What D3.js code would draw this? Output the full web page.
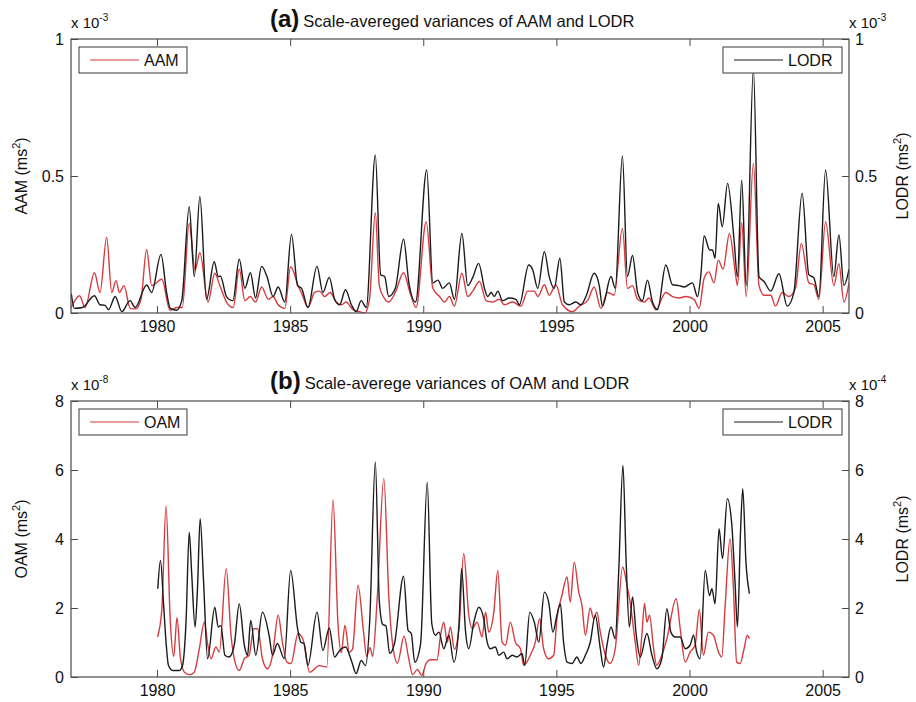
<!DOCTYPE html>
<html>
<head>
<meta charset="utf-8">
<script src="https://cdn.jsdelivr.net/npm/d3@7"></script>
<style>
  body { margin: 0; background: #fff; }
  text { font-family: "Liberation Sans", Arial, sans-serif; fill: #111; }
</style>
</head>
<body>
<svg id="chart" width="916" height="702"></svg>
<script>
// ---- data -------------------------------------------------------------
const yearTicks = [1980, 1985, 1990, 1995, 2000, 2005];
const topTicks = [0, 0.5, 1];          // both axes of panel (a), x 10^-3
const bottomTicks = [0, 2, 4, 6, 8];   // OAM x 10^-8, LODR x 10^-4

// Panel (a): AAM scale-averaged variance, x 10^-3 ms^2  [year, value]
const aamSeries = [
  [1976.78,0.02],[1977.09,0.063],[1977.3,0.02],[1977.65,0.147],[1977.86,0.075],
  [1978.11,0.276],[1978.3,0.075],[1978.46,0.118],[1978.59,0.075],[1978.76,0.10],
  [1978.99,0.017],[1979.2,0.015],[1979.4,0.05],[1979.61,0.232],[1979.8,0.10],
  [1980.18,0.123],[1980.49,0.01],[1980.75,0.02],[1980.95,0.02],[1981.21,0.327],
  [1981.43,0.157],[1981.61,0.22],[1981.92,0.04],[1982.17,0.145],[1982.36,0.10],
  [1982.61,0.04],[1982.86,0.02],[1983.09,0.16],[1983.3,0.045],[1983.5,0.06],
  [1983.7,0.04],[1983.93,0.095],[1984.18,0.05],[1984.36,0.06],[1984.55,0.03],
  [1984.8,0.017],[1985.02,0.169],[1985.3,0.10],[1985.48,0.06],[1985.67,0.02],
  [1985.92,0.075],[1986.1,0.08],[1986.3,0.06],[1986.5,0.075],[1986.73,0.04],
  [1986.92,0.03],[1987.1,0.04],[1987.36,0.012],[1987.6,0.005],[1987.8,0.0],
  [1987.98,0.05],[1988.2,0.366],[1988.35,0.10],[1988.5,0.06],[1988.7,0.04],
  [1988.95,0.075],[1989.26,0.147],[1989.5,0.075],[1989.73,0.02],[1990.11,0.333],
  [1990.36,0.09],[1990.61,0.06],[1990.8,0.04],[1990.98,0.06],[1991.17,0.025],
  [1991.45,0.145],[1991.67,0.06],[1991.86,0.08],[1992.11,0.115],[1992.36,0.045],
  [1992.61,0.04],[1992.86,0.05],[1993.05,0.03],[1993.36,0.04],[1993.67,0.025],
  [1993.92,0.08],[1994.17,0.08],[1994.3,0.06],[1994.55,0.103],[1994.73,0.065],
  [1994.98,0.103],[1995.23,0.03],[1995.61,0.005],[1995.86,0.025],[1996.17,0.045],
  [1996.42,0.095],[1996.67,0.017],[1996.92,0.075],[1997.17,0.065],[1997.48,0.309],
  [1997.67,0.09],[1997.86,0.10],[1998.05,0.05],[1998.3,0.04],[1998.48,0.055],
  [1998.73,0.012],[1999.11,0.075],[1999.36,0.06],[1999.61,0.055],[1999.86,0.06],
  [2000.17,0.05],[2000.36,0.017],[2000.55,0.128],[2000.73,0.15],[2000.92,0.11],
  [2001.08,0.193],[2001.26,0.16],[2001.5,0.29],[2001.73,0.14],[2001.8,0.10],
  [2001.96,0.33],[2002.13,0.06],[2002.4,0.546],[2002.61,0.10],[2002.8,0.065],
  [2003.05,0.065],[2003.23,0.025],[2003.48,0.075],[2003.73,0.06],[2003.98,0.09],
  [2004.2,0.254],[2004.48,0.11],[2004.67,0.103],[2004.86,0.05],[2005.11,0.333],
  [2005.42,0.10],[2005.61,0.18],[2005.8,0.04],[2005.99,0.11]
];

// Panel (a): LODR scale-averaged variance, x 10^-3 ms^2
const lodrTopSeries = [
  [1976.78,0.07],[1976.9,0.017],[1977.2,0.02],[1977.65,0.063],[1977.86,0.03],
  [1978.05,0.028],[1978.18,0.012],[1978.43,0.06],[1978.68,0.005],[1978.99,0.045],
  [1979.18,0.02],[1979.61,0.102],[1979.8,0.075],[1980.15,0.214],[1980.36,0.075],
  [1980.5,0.017],[1980.74,0.01],[1980.93,0.045],[1981.21,0.388],[1981.4,0.133],
  [1981.61,0.425],[1981.86,0.05],[1982.15,0.187],[1982.3,0.133],[1982.38,0.135],
  [1982.61,0.06],[1982.85,0.045],[1983.09,0.196],[1983.3,0.09],[1983.51,0.147],
  [1983.7,0.055],[1983.93,0.17],[1984.13,0.133],[1984.36,0.06],[1984.55,0.095],
  [1984.8,0.04],[1985.05,0.287],[1985.28,0.10],[1985.43,0.09],[1985.67,0.02],
  [1986.01,0.17],[1986.23,0.075],[1986.47,0.13],[1986.67,0.05],[1986.86,0.03],
  [1987.08,0.085],[1987.3,0.03],[1987.48,0.005],[1987.67,0.045],[1987.86,0.02],
  [1988.2,0.577],[1988.4,0.14],[1988.55,0.133],[1988.7,0.06],[1988.95,0.09],
  [1989.26,0.269],[1989.46,0.11],[1989.71,0.04],[1990.13,0.522],[1990.36,0.11],
  [1990.55,0.12],[1990.73,0.09],[1990.98,0.11],[1991.17,0.05],[1991.45,0.29],
  [1991.67,0.10],[1991.86,0.13],[1992.08,0.181],[1992.3,0.09],[1992.42,0.06],
  [1992.55,0.075],[1992.67,0.06],[1992.8,0.08],[1992.98,0.045],[1993.23,0.055],
  [1993.48,0.05],[1993.61,0.03],[1993.96,0.175],[1994.11,0.158],[1994.3,0.09],
  [1994.55,0.224],[1994.73,0.133],[1994.92,0.09],[1995.13,0.20],[1995.3,0.04],
  [1995.48,0.03],[1995.73,0.04],[1995.92,0.03],[1996.11,0.06],[1996.42,0.145],
  [1996.61,0.10],[1996.73,0.025],[1997.05,0.133],[1997.21,0.09],[1997.48,0.573],
  [1997.67,0.133],[1997.86,0.21],[1998.05,0.075],[1998.23,0.045],[1998.42,0.12],
  [1998.61,0.04],[1998.8,0.012],[1999.11,0.175],[1999.36,0.103],[1999.61,0.10],
  [1999.8,0.095],[2000.11,0.11],[2000.3,0.06],[2000.42,0.133],[2000.55,0.281],
  [2000.76,0.23],[2000.86,0.23],[2000.96,0.20],[2001.08,0.40],[2001.23,0.315],
  [2001.43,0.473],[2001.67,0.27],[2001.8,0.133],[2001.96,0.485],[2002.13,0.10],
  [2002.4,0.89],[2002.61,0.133],[2002.8,0.115],[2003.05,0.08],[2003.36,0.143],
  [2003.67,0.025],[2003.92,0.075],[2004.23,0.437],[2004.48,0.14],[2004.67,0.128],
  [2004.86,0.06],[2005.11,0.522],[2005.42,0.133],[2005.61,0.285],[2005.8,0.10],
  [2005.99,0.16]
];

// Panel (b): OAM scale-averaged variance, x 10^-8 ms^2
const oamSeries = [
  [1980.02,1.16],[1980.18,1.95],[1980.34,4.95],[1980.5,1.59],[1980.63,0.6],
  [1980.75,1.72],[1980.88,0.55],[1981.03,0.14],[1981.23,0.07],[1981.4,0.14],
  [1981.59,0.82],[1981.78,1.59],[1981.9,0.97],[1982.03,0.53],[1982.21,0.87],
  [1982.34,0.72],[1982.6,3.14],[1982.78,1.21],[1982.93,0.43],[1983.09,0.19],
  [1983.28,0.53],[1983.46,0.63],[1983.63,1.4],[1983.78,1.4],[1983.96,0.53],
  [1984.15,0.24],[1984.34,0.63],[1984.55,1.79],[1984.71,1.01],[1984.88,0.43],
  [1985.03,0.39],[1985.3,1.26],[1985.49,1.07],[1985.73,0.14],[1986.1,0.33],
  [1986.38,0.29],[1986.61,5.14],[1986.8,1.5],[1986.92,0.7],[1987.06,1.5],
  [1987.22,0.72],[1987.34,0.8],[1987.55,2.66],[1987.76,1.28],[1987.87,0.6],
  [1988.0,0.85],[1988.1,0.6],[1988.27,2.27],[1988.52,5.75],[1988.71,2.27],
  [1988.84,1.01],[1989.03,0.4],[1989.28,1.18],[1989.45,0.55],[1989.6,0.07],
  [1989.78,0.22],[1989.94,0.05],[1990.1,0.38],[1990.27,0.5],[1990.52,0.5],
  [1990.65,1.21],[1990.77,1.59],[1990.9,1.01],[1991.02,1.45],[1991.17,0.8],
  [1991.34,1.4],[1991.52,3.58],[1991.71,1.79],[1991.84,1.4],[1992.02,1.59],
  [1992.21,1.16],[1992.34,1.88],[1992.46,1.3],[1992.65,1.88],[1992.8,3.09],
  [1992.96,1.01],[1993.09,0.92],[1993.27,1.59],[1993.46,1.01],[1993.65,0.82],
  [1993.77,0.34],[1994.02,0.63],[1994.21,1.01],[1994.37,1.69],[1994.52,0.82],
  [1994.71,0.53],[1994.9,0.63],[1995.02,1.69],[1995.21,2.37],[1995.4,2.9],
  [1995.52,2.17],[1995.67,3.33],[1995.84,2.46],[1995.96,2.08],[1996.09,1.21],
  [1996.27,2.0],[1996.4,1.69],[1996.52,1.88],[1996.65,1.3],[1996.84,0.63],
  [1997.02,0.39],[1997.21,0.82],[1997.49,3.19],[1997.65,2.66],[1997.77,2.17],
  [1997.96,1.01],[1998.09,0.34],[1998.21,1.21],[1998.31,2.13],[1998.4,1.59],
  [1998.5,1.79],[1998.65,0.82],[1998.77,0.34],[1998.96,0.63],[1999.15,1.11],
  [1999.5,2.27],[1999.65,1.4],[1999.84,0.43],[2000.02,0.72],[2000.21,0.92],
  [2000.37,1.96],[2000.52,0.63],[2000.71,1.3],[2000.9,1.21],[2001.09,0.72],
  [2001.21,0.58],[2001.34,2.08],[2001.52,4.01],[2001.65,2.56],[2001.77,0.43],
  [2001.9,0.39],[2002.05,0.82],[2002.17,1.21],[2002.25,1.11]
];

// Panel (b): LODR scale-averaged variance, x 10^-4 ms^2
const lodrBottomSeries = [
  [1980.03,2.56],[1980.13,3.38],[1980.25,2.07],[1980.34,1.01],[1980.43,0.34],
  [1980.59,0.19],[1980.84,0.19],[1980.96,0.34],[1981.09,1.59],[1981.21,4.2],
  [1981.3,3.04],[1981.43,1.45],[1981.52,2.56],[1981.62,4.59],[1981.75,2.75],
  [1981.9,0.53],[1982.17,2.02],[1982.3,1.45],[1982.4,1.49],[1982.55,0.63],
  [1982.71,0.58],[1982.9,0.92],[1983.09,2.12],[1983.28,0.92],[1983.4,0.63],
  [1983.52,1.64],[1983.71,0.63],[1983.96,1.88],[1984.21,1.21],[1984.34,0.63],
  [1984.52,0.97],[1984.78,0.53],[1985.02,3.09],[1985.28,1.4],[1985.4,1.01],
  [1985.52,0.97],[1985.67,0.34],[1986.01,1.88],[1986.23,0.77],[1986.47,1.42],
  [1986.67,0.58],[1986.86,0.77],[1987.08,0.87],[1987.3,0.48],[1987.48,0.1],
  [1987.67,0.48],[1987.83,0.33],[1987.99,1.64],[1988.2,6.23],[1988.35,2.2],
  [1988.48,1.52],[1988.6,1.48],[1988.74,0.68],[1988.92,0.97],[1989.26,2.92],
  [1989.43,1.35],[1989.55,1.26],[1989.68,0.43],[1989.9,0.97],[1990.15,5.65],
  [1990.32,1.55],[1990.46,1.21],[1990.59,1.3],[1990.77,0.82],[1990.96,1.21],
  [1991.15,0.43],[1991.34,1.5],[1991.44,3.14],[1991.59,1.3],[1991.71,0.82],
  [1991.9,1.59],[1992.09,2.02],[1992.27,1.69],[1992.4,1.01],[1992.52,0.82],
  [1992.71,0.87],[1992.84,0.63],[1993.02,0.72],[1993.15,0.53],[1993.34,0.63],
  [1993.52,0.58],[1993.71,0.68],[1993.81,0.34],[1994.0,1.88],[1994.17,1.59],
  [1994.34,1.01],[1994.55,2.46],[1994.71,2.17],[1994.87,1.3],[1995.02,1.79],
  [1995.15,2.12],[1995.27,1.01],[1995.4,0.43],[1995.59,0.39],[1995.77,0.58],
  [1995.92,0.39],[1996.09,0.63],[1996.27,1.0],[1996.46,1.79],[1996.65,0.82],
  [1996.77,0.28],[1996.9,0.92],[1997.05,1.45],[1997.21,1.11],[1997.34,3.04],
  [1997.5,6.14],[1997.62,3.33],[1997.74,1.45],[1997.86,2.32],[1998.0,1.21],
  [1998.15,0.58],[1998.4,1.26],[1998.59,0.63],[1998.77,0.24],[1998.96,0.53],
  [1999.15,1.98],[1999.3,1.3],[1999.46,1.16],[1999.65,1.16],[1999.84,0.82],
  [2000.02,0.92],[2000.15,1.21],[2000.27,0.72],[2000.4,0.53],[2000.59,3.09],
  [2000.75,2.36],[2000.84,2.56],[2000.96,2.12],[2001.11,4.3],[2001.24,3.43],
  [2001.42,5.17],[2001.58,4.49],[2001.71,2.75],[2001.8,1.45],[2001.92,4.3],
  [2002.0,5.46],[2002.12,3.33],[2002.25,2.42]
];

// ---- drawing ----------------------------------------------------------
const svg = d3.select("#chart");
const RED = "#d63c3f", BLACK = "#1b1b1b", AXIS = "#4a4a4a";
const plotLeft = 71, plotRight = 849;
const x = d3.scaleLinear().domain([1976.77, 2005.99]).range([plotLeft, plotRight]);

const panels = [
  {
    id: "a", top: 39, bottom: 313, leftMax: 1, rightMax: 1,
    leftTicks: topTicks, rightTicks: topTicks,
    leftExp: "-3", rightExp: "-3",
    label: "(a)", title: "Scale-avereged variances of AAM and LODR",
    leftName: "AAM", rightName: "LODR",
    redData: aamSeries, blackData: lodrTopSeries,
    tickFmt: d => d === 0.5 ? "0.5" : String(d)
  },
  {
    id: "b", top: 401, bottom: 677, leftMax: 8, rightMax: 8,
    leftTicks: bottomTicks, rightTicks: bottomTicks,
    leftExp: "-8", rightExp: "-4",
    label: "(b)", title: "Scale-averege variances of OAM and LODR",
    leftName: "OAM", rightName: "LODR",
    redData: oamSeries, blackData: lodrBottomSeries,
    tickFmt: d => String(d)
  }
];

panels.forEach(p => {
  const yL = d3.scaleLinear().domain([0, p.leftMax]).range([p.bottom, p.top]);
  const yR = d3.scaleLinear().domain([0, p.rightMax]).range([p.bottom, p.top]);
  const g = svg.append("g");

  // clip region for the curves
  g.append("clipPath").attr("id", "clip-" + p.id)
    .append("rect").attr("x", plotLeft).attr("y", p.top)
    .attr("width", plotRight - plotLeft).attr("height", p.bottom - p.top);

  const line = yScale => d3.line()
    .x(d => x(d[0])).y(d => yScale(d[1]))
    .curve(d3.curveMonotoneX);

  const curves = g.append("g").attr("clip-path", `url(#clip-${p.id})`);
  curves.append("path").datum(p.redData)
    .attr("d", line(yL)).attr("fill", "none")
    .attr("stroke", RED).attr("stroke-width", 1.4).attr("stroke-linejoin", "round");
  curves.append("path").datum(p.blackData)
    .attr("d", line(yR)).attr("fill", "none")
    .attr("stroke", BLACK).attr("stroke-width", 1.4).attr("stroke-linejoin", "round");

  // axes with inward ticks
  const styleAxis = sel => {
    sel.select(".domain").remove();
    sel.selectAll(".tick line").attr("stroke", AXIS);
    sel.selectAll(".tick text").attr("fill", "#111")
      .style("font-family", '"Liberation Sans", Arial, sans-serif')
      .style("font-size", "16px");
  };
  g.append("g").attr("transform", `translate(0,${p.bottom})`)
    .call(d3.axisBottom(x).tickValues(yearTicks).tickFormat(d3.format("d"))
      .tickSize(-7).tickPadding(8)).call(styleAxis);
  g.append("g").attr("transform", `translate(0,${p.top})`)
    .call(d3.axisTop(x).tickValues(yearTicks).tickFormat("")
      .tickSize(-7)).call(styleAxis);
  g.append("g").attr("transform", `translate(${plotLeft},0)`)
    .call(d3.axisLeft(yL).tickValues(p.leftTicks).tickFormat(p.tickFmt)
      .tickSize(-7).tickPadding(7)).call(styleAxis);
  g.append("g").attr("transform", `translate(${plotRight},0)`)
    .call(d3.axisRight(yR).tickValues(p.rightTicks).tickFormat(p.tickFmt)
      .tickSize(-7).tickPadding(6)).call(styleAxis);

  // axes box
  g.append("rect").attr("x", plotLeft).attr("y", p.top)
    .attr("width", plotRight - plotLeft).attr("height", p.bottom - p.top)
    .attr("fill", "none").attr("stroke", AXIS).attr("stroke-width", 1.2);

  // scale multipliers
  const mult = (xPos, exp) => {
    const t = g.append("text").attr("x", xPos).attr("y", p.top - 11)
      .style("font-size", "15px");
    t.append("tspan").text("x 10");
    t.append("tspan").attr("dy", -7).style("font-size", "10px").text(exp);
  };
  mult(plotLeft, p.leftExp);
  mult(plotRight, p.rightExp);

  // title
  const title = g.append("text").attr("x", 270).attr("y", p.top - 12);
  title.append("tspan").style("font-size", "24px").style("font-weight", "bold").text(p.label);
  title.append("tspan").attr("dx", 4).style("font-size", "16.5px").text(p.title);

  // y-axis labels
  const yLabel = (xPos, name) => {
    const cy = (p.top + p.bottom) / 2;
    const t = g.append("text").attr("text-anchor", "middle")
      .attr("transform", `translate(${xPos},${cy}) rotate(-90)`)
      .style("font-size", "16px");
    t.append("tspan").text(name + " (ms");
    t.append("tspan").attr("dy", -7).style("font-size", "11px").text("2");
    t.append("tspan").attr("dy", 7).text(")");
  };
  yLabel(27, p.leftName);
  yLabel(908, p.rightName);

  // legends
  const legend = (lx, w, color, name) => {
    const ly = p.top + 8;
    g.append("rect").attr("x", lx).attr("y", ly).attr("width", w).attr("height", 26)
      .attr("fill", "#fff").attr("stroke", AXIS).attr("stroke-width", 1.1);
    g.append("line").attr("x1", lx + 11).attr("x2", lx + 60)
      .attr("y1", ly + 13).attr("y2", ly + 13)
      .attr("stroke", color).attr("stroke-width", 1.2);
    g.append("text").attr("x", lx + 65).attr("y", ly + 13).attr("dy", "0.36em")
      .style("font-size", "16px").text(name);
  };
  legend(79, 108, RED, p.leftName);
  legend(723, 119, BLACK, p.rightName);
});
</script>
</body>
</html>
